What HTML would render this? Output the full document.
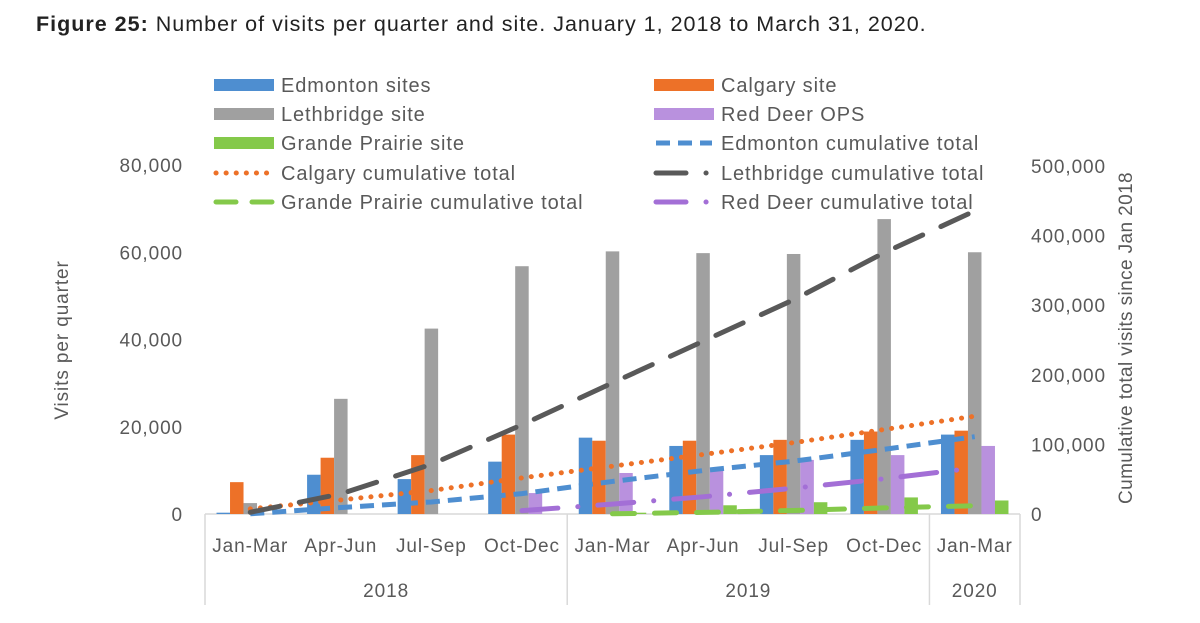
<!DOCTYPE html>
<html><head><meta charset="utf-8"><style>
body{margin:0;background:#fff;}
svg text{font-family:"Liberation Sans",sans-serif;}
</style></head><body>
<svg width="1200" height="618" viewBox="0 0 1200 618">
<text x="36" y="31" font-size="21.5" letter-spacing="1.0" fill="#222"><tspan font-weight="bold">Figure 25:</tspan> Number of visits per quarter and site. January 1, 2018 to March 31, 2020.</text>
<g id="axes"></g><g id="bars"></g><g id="lines"></g><g id="legend"></g>
</svg>
<script>
const quarters=["Jan-Mar","Apr-Jun","Jul-Sep","Oct-Dec","Jan-Mar","Apr-Jun","Jul-Sep","Oct-Dec","Jan-Mar"];
const years=["2018","2019","2020"];
const yearSpans=[4,4,1];
const edmonton=[300,9000,8000,12000,17500,15600,13500,17000,18200];
const calgary=[7300,12900,13500,18200,16800,16800,17000,18900,19100];
const lethbridge=[2500,26400,42500,56800,60200,59800,59600,67600,60000];
const redDeer=[0,0,0,4800,9400,10500,12400,13500,15600];
const grandePrairie=[0,0,0,0,300,2000,2700,3800,3100];
const edmontonCum=[300,9300,17300,29300,46800,62400,75900,92900,111100];
const calgaryCum=[7300,20200,33700,51900,68700,85500,102500,121400,140500];
const lethbridgeCum=[2500,28900,71400,128200,188400,248200,307800,375400,435400];
const redDeerCum=[null,null,null,4800,14200,24700,37100,50600,66200];
const grandePrairieCum=[null,null,null,null,300,2300,5000,8800,11900];
const leftTicks=[0,20000,40000,60000,80000];
const rightTicks=[0,100000,200000,300000,400000,500000];

const NS="http://www.w3.org/2000/svg";
function mk(parent,tag,attrs,text){const e=document.createElementNS(NS,tag);for(const k in attrs)e.setAttribute(k,attrs[k]);if(text!==undefined)e.textContent=text;parent.appendChild(e);return e;}
const X0=205,X1=1020,Y0=514,YT=165,YR=166;
const step=(X1-X0)/quarters.length;
const xc=i=>X0+step*(i+0.5);
const yL=v=>Y0-(v/80000)*(Y0-YT);
const yR=v=>Y0-(v/500000)*(Y0-YR);
const fmt=v=>v.toLocaleString("en-US");
const axes=document.getElementById("axes"),bars=document.getElementById("bars"),lines=document.getElementById("lines"),legend=document.getElementById("legend");
const tc="#595959";
const FS=19,LS=0.9;
leftTicks.forEach(v=>{const t=mk(axes,"text",{x:183,y:yL(v)+7,"text-anchor":"end","font-size":FS,"letter-spacing":LS,fill:tc},fmt(v));

});
rightTicks.forEach(v=>{const t=mk(axes,"text",{x:1031,y:yR(v)+7,"font-size":FS,"letter-spacing":LS,fill:tc},fmt(v));

});
let t=mk(axes,"text",{transform:"translate(68,340) rotate(-90)","text-anchor":"middle","font-size":FS,"letter-spacing":LS,fill:tc},"Visits per quarter");


t=mk(axes,"text",{transform:"translate(1132,338) rotate(-90)","text-anchor":"middle","font-size":FS,"letter-spacing":0.4,fill:tc},"Cumulative total visits since Jan 2018");


let l=mk(axes,"line",{x1:X0,x2:X1,y1:Y0,y2:Y0,stroke:"#d9d9d9","stroke-width":1.5});


quarters.forEach((q,i)=>{const e=mk(axes,"text",{x:xc(i),y:552,"text-anchor":"middle","font-size":FS,"letter-spacing":LS,fill:tc},q);

});
let idx=0;
const sep=x=>{const e=mk(axes,"line",{x1:x,x2:x,y1:Y0,y2:605,stroke:"#d9d9d9","stroke-width":1.5});

};
sep(X0);
years.forEach((y,k)=>{const a=X0+idx*step;idx+=yearSpans[k];const b=X0+idx*step;sep(b);
const e=mk(axes,"text",{x:(a+b)/2,y:597,"text-anchor":"middle","font-size":FS,"letter-spacing":LS,fill:tc},y);

});
const series=[[edmonton,"#4e8ed0","edmonton"],[calgary,"#ed7128","calgary"],[lethbridge,"#a0a0a0","lethbridge"],[redDeer,"#b991de","red-deer"],[grandePrairie,"#84c94a","grande-prairie"]];
const bw=13.5;
series.forEach(([arr,c,n],s)=>{arr.forEach((v,i)=>{const x=xc(i)-2.5*bw+s*bw;const y=yL(v);
const r=mk(bars,"rect",{x:x,y:y,width:bw,height:Y0-y,fill:c});

});});
const lineDefs=[
[edmontonCum,"#4e8ed0","14 8","butt",5,"edmonton-cumulative-line"],
[calgaryCum,"#ed7128","0.1 10","round",5,"calgary-cumulative-line"],
[lethbridgeCum,"#595959","30 20","round",5,"lethbridge-cumulative-line"],
[grandePrairieCum,"#84c94a","22 20","round",5,"grande-prairie-cumulative-line"],
[redDeerCum,"#a36fd6","36 20 0.1 20","round",5,"red-deer-cumulative-line"]];
lineDefs.forEach(([arr,c,d,cap,w,n])=>{const pts=[];arr.forEach((v,i)=>{if(v!==null)pts.push(xc(i)+","+yR(v));});
const p=mk(lines,"polyline",{points:pts.join(" "),fill:"none",stroke:c,"stroke-width":w,"stroke-dasharray":d,"stroke-linecap":cap});

});
const leg=[
[214,85,"Edmonton sites","rect","#4e8ed0"],[654,85,"Calgary site","rect","#ed7128"],
[214,114,"Lethbridge site","rect","#a0a0a0"],[654,114,"Red Deer OPS","rect","#b991de"],
[214,143,"Grande Prairie site","rect","#84c94a"],[654,143,"Edmonton cumulative total","line","#4e8ed0","14 8","butt"],
[214,173,"Calgary cumulative total","line","#ed7128","0.1 10","round"],[654,173,"Lethbridge cumulative total","line","#595959","30 20 0.1 20","round"],
[214,202,"Grande Prairie cumulative total","line","#84c94a","20 16","round"],[654,202,"Red Deer cumulative total","line","#a36fd6","30 20 0.1 20","round"]];
leg.forEach(([x,y,label,type,c,d,cap])=>{const g=mk(legend,"g",{});


if(type==="rect")mk(g,"rect",{x:x,y:y-6,width:60,height:12,fill:c});
else mk(g,"line",{x1:x+2,x2:x+58,y1:y,y2:y,stroke:c,"stroke-width":5,"stroke-dasharray":d,"stroke-linecap":cap});
mk(g,"text",{x:x+67,y:y+7,"font-size":FS+1,"letter-spacing":0.9,fill:tc},label);});
</script>
</body></html>
